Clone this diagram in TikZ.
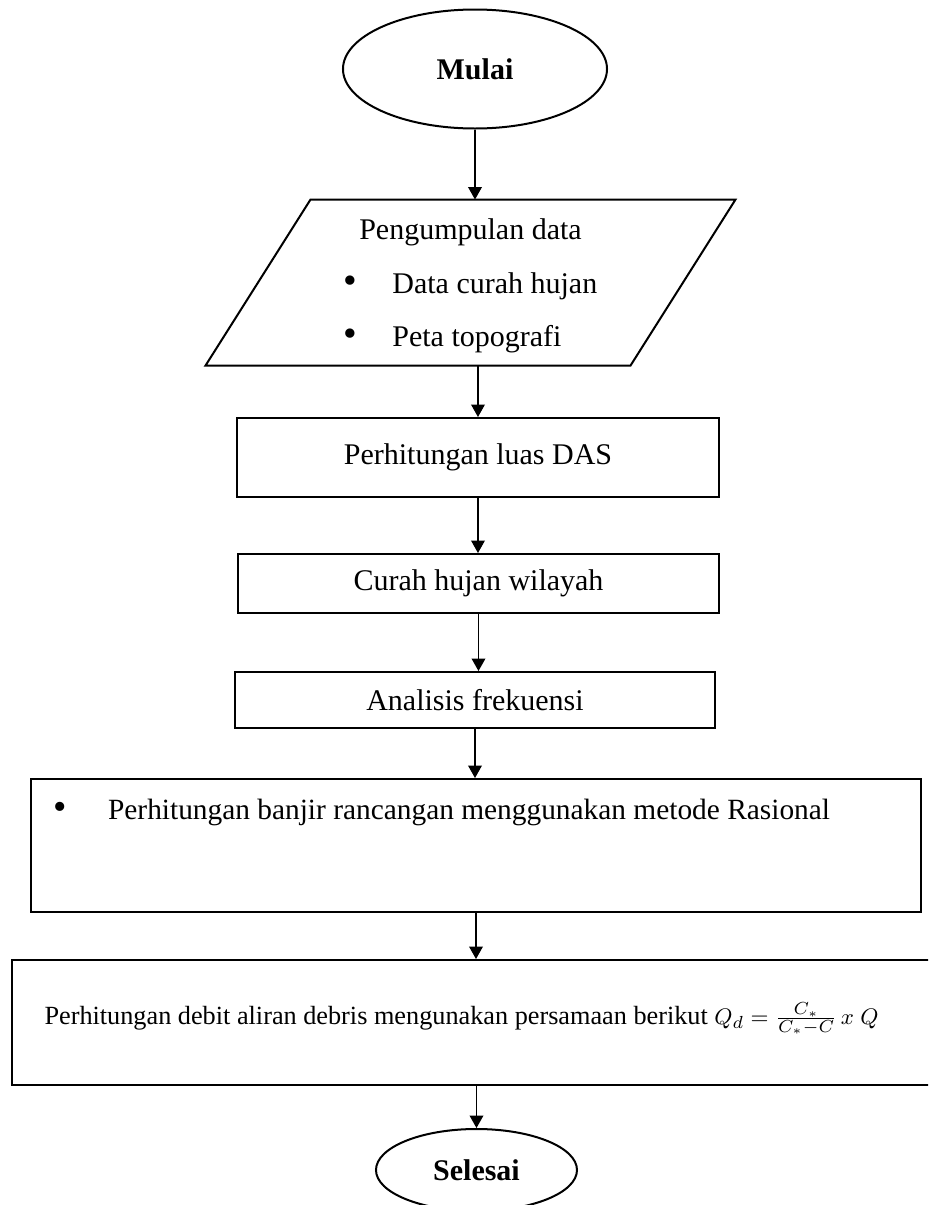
\documentclass[tikz,border=0pt]{standalone}
\usepackage{fontspec}
\setmainfont{Liberation Serif}
\usetikzlibrary{shapes.geometric, arrows.meta, positioning, calc}
\newcommand{\flowbullet}{\scalebox{1.3}{\textbullet}}
\tikzset{
    flowbox/.style={draw, rectangle, line width=0.8pt, font=\fontsize{12}{14.5}\selectfont, align=center, inner sep=0pt},
    terminal/.style={draw, ellipse, line width=0.8pt, font=\fontsize{12}{14.5}\selectfont\bfseries, inner sep=0pt},
    flowarrow/.style={-{Triangle[length=5pt, width=5.5pt]}, line width=0.5pt},
    bodytext/.style={font=\fontsize{12}{14.5}\selectfont, inner sep=0pt},
}
\begin{document}
\begin{tikzpicture}
    \useasboundingbox (0,0) rectangle (13.047,-16.941);
    \clip (0,0) rectangle (13.047,-16.941);
    % Start
    \node[terminal, minimum width=3.712cm, minimum height=1.673cm] (mulai) at (6.678,-0.970) {Mulai};
    % Data collection
    \node[bodytext, minimum width=5.961cm, minimum height=2.320cm] (data) at (6.615,-3.972) {\renewcommand{\arraystretch}{1.48}\begin{tabular}{@{}l@{\hspace{14pt}}l@{}}\multicolumn{2}{c}{Pengumpulan data}\\ \flowbullet & Data curah hujan\\ \flowbullet & Peta topografi\end{tabular}};
    \draw[line width=0.8pt] ([xshift=0.738cm]data.north west) -- ([xshift=0.738cm]data.north east) -- ([xshift=-0.738cm]data.south east) -- ([xshift=-0.738cm]data.south west) -- cycle;
    % Process boxes
    \node[flowbox, minimum width=6.776cm, minimum height=1.111cm] (das) at (6.720,-6.432) {Perhitungan luas DAS};
    \node[flowbox, minimum width=6.762cm, minimum height=0.829cm] (curah) at (6.727,-8.203) {Curah hujan wilayah};
    \node[flowbox, minimum width=6.748cm, minimum height=0.787cm] (analisis) at (6.678,-9.841) {Analisis frekuensi};
    \node[flowbox, minimum width=12.513cm, minimum height=1.870cm] (banjir) at (6.692,-11.887) {};
    \node[bodytext, anchor=west, font=\fontsize{11.75}{14}\selectfont] (banjirtext) at (0.745,-11.416) {\flowbullet\hspace{16.5pt}Perhitungan banjir rancangan menggunakan metode Rasional};
    \node[flowbox, minimum width=12.977cm, minimum height=1.757cm] (debit) at (6.657,-14.375) {};
    \node[bodytext, anchor=base west, font=\fontsize{10.5}{12}\selectfont] (debittext) at (0.619,-14.40) {Perhitungan debit aliran debris mengunakan persamaan berikut {\fontsize{9.5}{11}\selectfont$Q_d = \frac{C_*}{C_*-C}\,x\;Q$}};
    % End
    \node[terminal, minimum width=2.826cm, minimum height=1.153cm] (selesai) at (6.699,-16.449) {Selesai};
    % Arrows
    \draw[flowarrow] (mulai.south) -- (mulai.south |- data.north);
    \draw[flowarrow] (das.north |- data.south) -- (das.north);
    \draw[flowarrow] (das.south) -- (das.south |- curah.north);
    \draw[flowarrow] (curah.south) -- (curah.south |- analisis.north);
    \draw[flowarrow] (analisis.south) -- (analisis.south |- banjir.north);
    \draw[flowarrow] (banjir.south) -- (banjir.south |- debit.north);
    \draw[flowarrow] (selesai.north |- debit.south) -- (selesai.north);
\end{tikzpicture}
\end{document}
